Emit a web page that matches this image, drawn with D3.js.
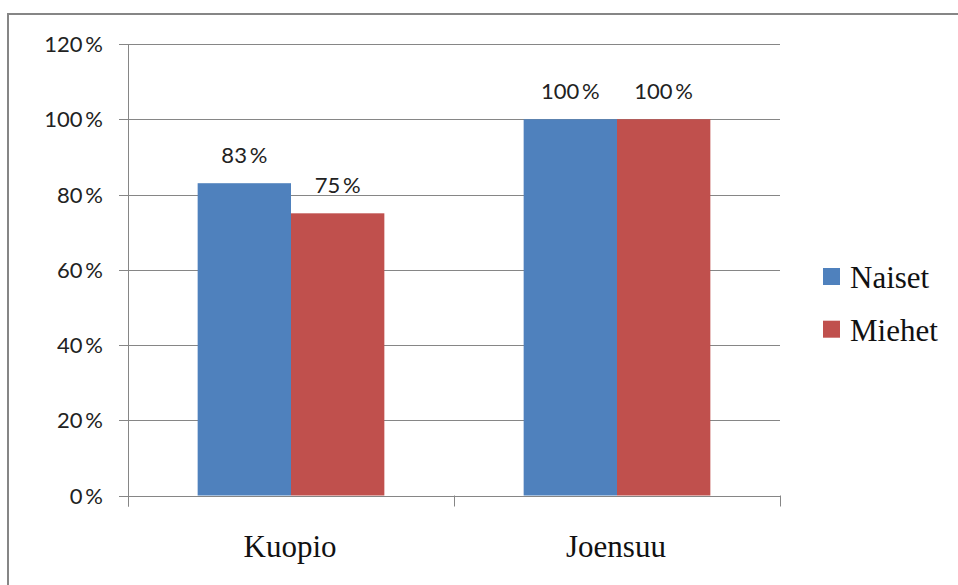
<!DOCTYPE html>
<html>
<head>
<meta charset="utf-8">
<script src="https://d3js.org/d3.v7.min.js"></script>
<style>
  body { margin: 0; background: #fff; }
  svg { display: block; }
</style>
</head>
<body>
<div id="chart"></div>
<script>
// Données
const categories = ["Kuopio", "Joensuu"];
const series = ["Naiset", "Miehet"];
const naiset = [83, 100];
const miehet = [75, 100];
const yTicks = [0, 20, 40, 60, 80, 100, 120];
const colors = ["#4F81BD", "#C0504D"];

const width = 958;
const height = 585;
const plot = { left: 128, right: 780, top: 44, bottom: 495.5 };

const svg = d3.select("#chart").append("svg")
  .attr("width", width)
  .attr("height", height);

// Cadre
svg.append("rect")
  .attr("x", 8).attr("y", 14)
  .attr("width", 970).attr("height", 600)
  .attr("fill", "none")
  .attr("stroke", "#868686")
  .attr("stroke-width", 2);

const x0 = d3.scaleBand()
  .domain(categories)
  .range([plot.left, plot.right])
  .paddingInner(0)
  .paddingOuter(0);

const groupWidth = 186.7;
const x1 = d3.scaleBand()
  .domain(series)
  .range([0, groupWidth]);

const y = d3.scaleLinear()
  .domain([0, 120])
  .range([plot.bottom, plot.top]);

// Grille
svg.append("g")
  .selectAll("line")
  .data(yTicks)
  .join("line")
  .attr("x1", plot.left - 9)
  .attr("x2", plot.right)
  .attr("y1", d => Math.round(y(d)) + 0.5)
  .attr("y2", d => Math.round(y(d)) + 0.5)
  .attr("stroke", "#868686")
  .attr("stroke-width", 1);

// Axe Y
svg.append("line")
  .attr("x1", plot.left + 0.5).attr("x2", plot.left + 0.5)
  .attr("y1", plot.top).attr("y2", plot.bottom + 11)
  .attr("stroke", "#868686");

// Repères catégories
const catTicks = [plot.left, plot.left + x0.bandwidth(), plot.right];
svg.append("g")
  .selectAll("line")
  .data(catTicks)
  .join("line")
  .attr("x1", d => Math.round(d) + 0.5)
  .attr("x2", d => Math.round(d) + 0.5)
  .attr("y1", plot.bottom)
  .attr("y2", plot.bottom + 11)
  .attr("stroke", "#868686");

// Libellés Y
svg.append("g")
  .selectAll("text")
  .data(yTicks)
  .join("text")
  .attr("x", 103)
  .attr("y", d => y(d) + 8)
  .attr("text-anchor", "end")
  .attr("font-family", "Lato, 'Open Sans', sans-serif")
  .attr("font-size", 22)
  .attr("fill", "#222")
  .text(d => d + "\u2009%");

// Barres
const rows = categories.map((c, i) => ({ cat: c, values: [naiset[i], miehet[i]] }));
const offset = (x0.bandwidth() - groupWidth) / 2;

const groups = svg.append("g")
  .selectAll("g")
  .data(rows)
  .join("g")
  .attr("transform", d => `translate(${x0(d.cat) + offset},0)`);

groups.selectAll("rect")
  .data(d => d.values.map((v, j) => ({ s: series[j], v, j })))
  .join("rect")
  .attr("x", d => x1(d.s))
  .attr("width", x1.bandwidth())
  .attr("y", d => y(d.v))
  .attr("height", d => y(0) - y(d.v))
  .attr("fill", d => colors[d.j]);

groups.selectAll("text")
  .data(d => d.values.map((v, j) => ({ s: series[j], v, j })))
  .join("text")
  .attr("x", d => x1(d.s) + x1.bandwidth() / 2)
  .attr("y", d => y(d.v) - 20)
  .attr("text-anchor", "middle")
  .attr("font-family", "Lato, 'Open Sans', sans-serif")
  .attr("font-size", 22)
  .attr("fill", "#222")
  .text(d => d.v + "\u2009%");

// Libellés catégories
svg.append("g")
  .selectAll("text")
  .data(categories)
  .join("text")
  .attr("x", d => x0(d) + x0.bandwidth() / 2 - 1)
  .attr("y", 557)
  .attr("text-anchor", "middle")
  .attr("font-family", "'Liberation Serif', serif")
  .attr("font-size", 31)
  .attr("fill", "#111")
  .text(d => d);

// Légende
const legend = svg.append("g")
  .selectAll("g")
  .data(series)
  .join("g")
  .attr("transform", (d, i) => `translate(823,${268 + i * 52.7})`);

legend.append("rect")
  .attr("width", 17).attr("height", 17)
  .attr("fill", (d, i) => colors[i]);

legend.append("text")
  .attr("x", 27)
  .attr("y", 20)
  .attr("font-family", "'Liberation Serif', serif")
  .attr("font-size", 31)
  .attr("fill", "#111")
  .text(d => d);
</script>
</body>
</html>
